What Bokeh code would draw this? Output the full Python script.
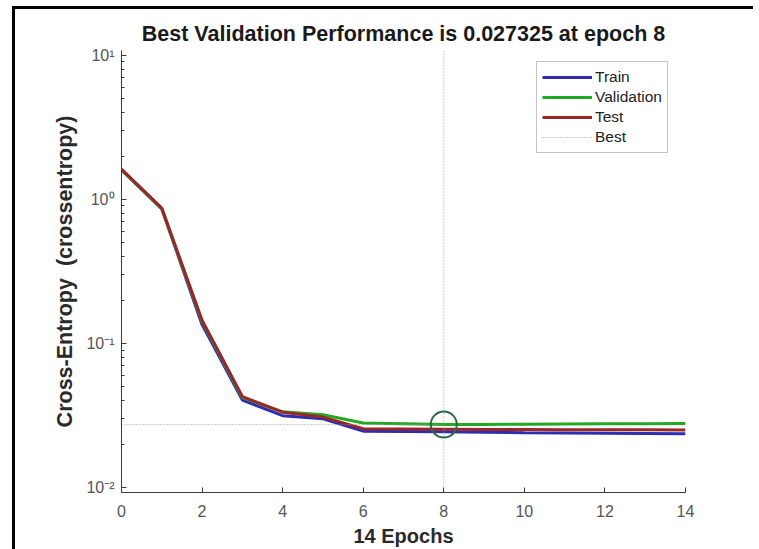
from bokeh.plotting import figure
from bokeh.models import (Range1d, FixedTicker, CustomJSTickFormatter, Legend, LegendItem,
                          InlineStyleSheet)
from bokeh.embed import file_html
from bokeh.resources import INLINE

# ---- data ----
epochs = list(range(15))
train = [1.60, 0.86, 0.135, 0.0405, 0.0315, 0.0300, 0.0246, 0.0245, 0.0244,
         0.0242, 0.0240, 0.0239, 0.0238, 0.0237, 0.0236]
validation = [1.60, 0.86, 0.142, 0.0420, 0.0335, 0.0320, 0.0280, 0.0277, 0.027325,
              0.0274, 0.0275, 0.0276, 0.0277, 0.0277, 0.0278]
test = [1.62, 0.87, 0.145, 0.0428, 0.0333, 0.0308, 0.0256, 0.0255, 0.0254,
        0.0253, 0.0253, 0.0252, 0.0252, 0.0252, 0.0251]
best_epoch = 8
best_value = 0.027325
x_ticks = [0, 2, 4, 6, 8, 10, 12, 14]
y_ticks = [0.01, 0.1, 1, 10]
y_lo, y_hi = 0.00923, 10.8

FONT = "Liberation Sans"

p = figure(width=759, height=549, output_backend="svg", toolbar_location=None,
           x_range=Range1d(0, 14), y_range=Range1d(y_lo, y_hi), y_axis_type="log",
           min_border_left=121, min_border_right=74, min_border_top=50, min_border_bottom=57)

p.title.text = "Best Validation Performance is 0.027325 at epoch 8"
p.title.align = "center"
p.title.text_font = FONT
p.title.text_font_size = "21.5px"
p.title.text_font_style = "bold"
p.title.text_color = "#1a1a1a"
p.title.standoff = 10
p.title.offset = 15

p.grid.visible = False
p.outline_line_color = None
p.background_fill_color = "white"
p.border_fill_color = "white"
# black frame edges of the original picture: two thin separate bars (top and left)
p.stylesheets = [InlineStyleSheet(css="""
:host { position: relative; overflow: hidden; }
:host::before {
  content: ""; position: absolute; left: 12px; top: 6px;
  width: 741px; height: 3px; background: #000;
  pointer-events: none; z-index: 2;
}
:host::after {
  content: ""; position: absolute; left: 12px; top: 6px;
  width: 3px; height: 543px; background: #000;
  pointer-events: none; z-index: 2;
}
""")]

for ax in (p.xaxis[0], p.yaxis[0]):
    ax.axis_line_color = "#3a3a3a"
    ax.major_tick_line_color = "#3a3a3a"
    ax.minor_tick_line_color = "#3a3a3a"
    ax.major_tick_in = 5
    ax.major_tick_out = 0
    ax.minor_tick_in = 3
    ax.minor_tick_out = 0
    ax.major_label_text_font = FONT
    ax.major_label_text_font_size = "16px"
    ax.major_label_text_color = "#555555"
    ax.axis_label_text_font = FONT
    ax.axis_label_text_font_style = "bold"
    ax.axis_label_text_color = "#2a2a2a"

p.xaxis.ticker = FixedTicker(ticks=x_ticks, minor_ticks=[])
p.xaxis.axis_label = "14 Epochs"
p.xaxis.axis_label_text_font_size = "20px"
p.xaxis.major_label_standoff = 12
p.xaxis.axis_label_standoff = 5

minor = [m * d for d in [0.01, 0.1, 1] for m in range(2, 10)]
p.yaxis.ticker = FixedTicker(ticks=y_ticks, minor_ticks=minor)
p.yaxis.formatter = CustomJSTickFormatter(code="""
const e = Math.round(Math.log10(tick));
const sup = {"-": "\u207b", "0": "\u2070", "1": "\u00b9", "2": "\u00b2", "3": "\u00b3"};
return "10" + String(e).split("").map(c => sup[c]).join("");
""")
p.yaxis.axis_label = "Cross-Entropy \u00a0(crossentropy)"
p.yaxis.axis_label_text_font_size = "21.5px"
p.yaxis.major_label_standoff = 7
p.yaxis.axis_label_standoff = 6

r_train = p.line(epochs, train, line_color="#2d2db4", line_width=3)
r_val = p.line(epochs, validation, line_color="#22a822", line_width=3)
r_test = p.line(epochs, test, line_color="#9b2626", line_width=3)

r_best_v = p.line([best_epoch, best_epoch], [y_lo, y_hi], line_color="#9a9a9a",
                  line_width=1, line_dash="1 2")
p.line([0, best_epoch], [best_value, best_value], line_color="#9a9a9a",
       line_width=1, line_dash="1 2")
p.scatter([best_epoch], [best_value], marker="circle", size=26, fill_color=None,
          line_color="#2e6a46", line_width=2)

legend = Legend(items=[LegendItem(label="Train", renderers=[r_train]),
                       LegendItem(label="Validation", renderers=[r_val]),
                       LegendItem(label="Test", renderers=[r_test]),
                       LegendItem(label="Best", renderers=[r_best_v])],
                location=(415, 339))
legend.label_text_font = FONT
legend.label_text_font_size = "15.5px"
legend.label_text_color = "#222222"
legend.glyph_width = 50
legend.glyph_height = 20
legend.label_height = 20
legend.label_standoff = 3
legend.spacing = 0
legend.padding = 5
legend.margin = 0
legend.border_line_color = "#8a8a8a"
legend.border_line_width = 1
legend.background_fill_color = "white"
p.add_layout(legend, "center")

open("out.html", "w").write(file_html(p, INLINE))
